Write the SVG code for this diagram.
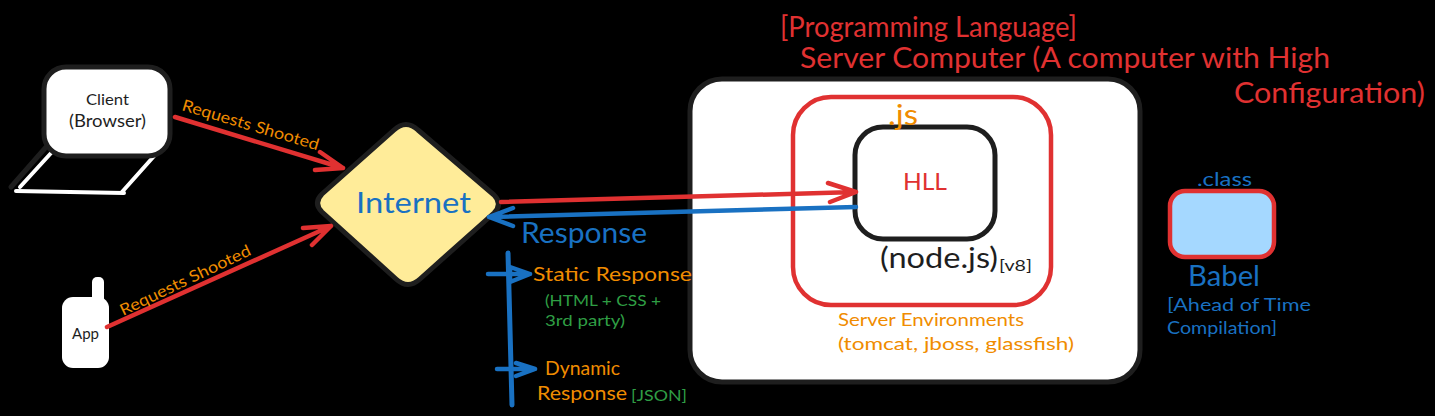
<svg xmlns="http://www.w3.org/2000/svg" width="1435" height="416" viewBox="0 0 1435 416">
<style>
text{font-family:"Lato","Noto Sans",sans-serif;}
.box{stroke:#1e1e1e;stroke-width:5;stroke-linejoin:round}
.wh{fill:#fff}
.ln{fill:none;stroke-linecap:round;stroke-linejoin:round}
.r{stroke:#e03131;stroke-width:4.5}
.b{stroke:#1971c2;stroke-width:4.5}
.tr{fill:#e03131}.tb{fill:#1971c2}.to{fill:#f08c00}.tg{fill:#2f9e44}.td{fill:#1e1e1e}
</style>
<rect width="1435" height="416" fill="#000"/>
<g id="client">
<path class="ln" d="M47 146L11 187" stroke="#1e1e1e" stroke-width="5"/>
<path class="ln" d="M52 152L20 187M16 191L124 193M155 155L122 192" stroke="#fff" stroke-width="4"/>
<rect class="box wh" x="44" y="67" width="126" height="89" rx="22"/>
<text class="td" x="86" y="105" font-size="15" textLength="43" lengthAdjust="spacingAndGlyphs">Client</text>
<text class="td" x="69" y="127" font-size="17" textLength="77" lengthAdjust="spacingAndGlyphs">(Browser)</text>
</g>
<g id="app">
<rect class="wh" x="92" y="277" width="12" height="30" rx="5"/>
<rect class="wh" x="62" y="297" width="47" height="71" rx="11"/>
<text class="td" x="72" y="339" font-size="16" textLength="27" lengthAdjust="spacingAndGlyphs">App</text>
</g>
<g id="internet">
<path class="box" d="M394 130Q406 119 418 130L494 195Q503 204 494 213L420 279Q408 290 396 279L322 212Q313 203 322 194Z" fill="#ffec99"/>
<text class="tb" x="356" y="213" font-size="28" textLength="115" lengthAdjust="spacingAndGlyphs">Internet</text>
</g>
<g id="server">
<rect class="box wh" x="690" y="79" width="450" height="303" rx="32"/>
</g>
<g id="environment">
<rect x="793" y="97" width="258" height="208" rx="38" fill="none" stroke="#e03131" stroke-width="4.5"/>
<text class="to" x="838" y="326" font-size="18" textLength="186" lengthAdjust="spacingAndGlyphs">Server Environments</text>
<text class="to" x="838" y="350" font-size="18" textLength="236" lengthAdjust="spacingAndGlyphs">(tomcat, jboss, glassfish)</text>
</g>
<g id="hll">
<rect x="855" y="127" width="140" height="112" rx="28" fill="#fff" stroke="#1e1e1e" stroke-width="5"/>
<text class="tr" x="903" y="190" font-size="24" textLength="44" lengthAdjust="spacingAndGlyphs">HLL</text>
<text class="to" x="888" y="125" font-size="28" textLength="30" lengthAdjust="spacingAndGlyphs">.js</text>
<text class="td" x="880" y="268" font-size="29" textLength="118" lengthAdjust="spacingAndGlyphs">(node.js)</text>
<text class="td" x="999" y="271" font-size="15" textLength="33" lengthAdjust="spacingAndGlyphs">[v8]</text>
</g>
<g id="babel">
<rect x="1170" y="191" width="104" height="66" rx="15" fill="#a5d8ff" stroke="#e03131" stroke-width="4.5"/>
<text class="tb" x="1197" y="186" font-size="19" textLength="55" lengthAdjust="spacingAndGlyphs">.class</text>
<text class="tb" x="1188" y="286" font-size="28" textLength="72" lengthAdjust="spacingAndGlyphs">Babel</text>
<text class="tb" x="1167" y="311" font-size="18" textLength="144" lengthAdjust="spacingAndGlyphs">[Ahead of Time</text>
<text class="tb" x="1167" y="334" font-size="18" textLength="110" lengthAdjust="spacingAndGlyphs">Compilation]</text>
</g>
<g id="connectors">
<path class="ln r" d="M175 117L343 168M320 152L343 168L315 170"/>
<path class="ln r" d="M107 327L331 226M303 228L331 226L312 245"/>
<path class="ln r" d="M501 202L856 192M828 183L856 192L830 202"/>
<path class="ln b" d="M856 207L489 217M513 208L489 217L513 226"/>
<path class="ln b" style="stroke-width:5" d="M508 253L512 405"/>
<path class="ln b" d="M488 274L530 274M510 267L530 274L510 282Z"/>
<path class="ln b" d="M497 369L535 369M516 363L535 369L516 376"/>
</g>
<g id="labels">
<text class="to" transform="translate(181 110) rotate(16.5)" font-size="16" textLength="142" lengthAdjust="spacingAndGlyphs">Requests Shooted</text>
<text class="to" transform="translate(123 316) rotate(-25.5)" font-size="16" textLength="143" lengthAdjust="spacingAndGlyphs">Requests Shooted</text>
<text class="tb" x="521" y="243" font-size="28" textLength="126" lengthAdjust="spacingAndGlyphs">Response</text>
<text class="to" x="533" y="281" font-size="20" textLength="159" lengthAdjust="spacingAndGlyphs">Static Response</text>
<text class="tg" x="545" y="306" font-size="15" textLength="116" lengthAdjust="spacingAndGlyphs">(HTML + CSS +</text>
<text class="tg" x="545" y="326" font-size="15" textLength="80" lengthAdjust="spacingAndGlyphs">3rd party)</text>
<text class="to" x="545" y="375" font-size="19" textLength="75" lengthAdjust="spacingAndGlyphs">Dynamic</text>
<text class="to" x="537" y="400" font-size="20" textLength="90" lengthAdjust="spacingAndGlyphs">Response</text>
<text class="tg" x="631" y="401" font-size="15" textLength="56" lengthAdjust="spacingAndGlyphs">[JSON]</text>
<text class="tr" x="780" y="37" font-size="28" textLength="297" lengthAdjust="spacingAndGlyphs">[Programming Language]</text>
<text class="tr" x="800" y="68" font-size="28" textLength="530" lengthAdjust="spacingAndGlyphs">Server Computer (A computer with High</text>
<text class="tr" x="1234" y="103" font-size="28" textLength="191" lengthAdjust="spacingAndGlyphs">Configuration)</text>
</g>
</svg>
